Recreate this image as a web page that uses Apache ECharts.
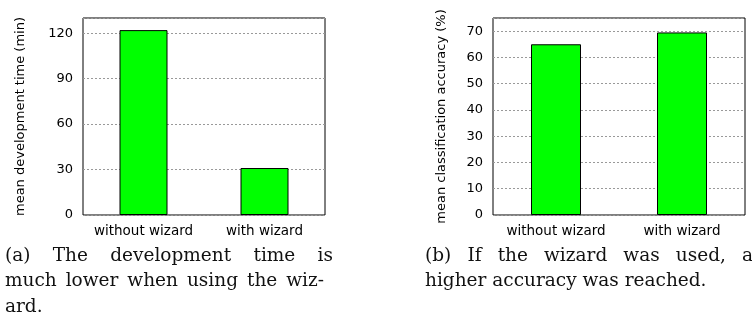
<!DOCTYPE html>
<html>
<head>
<meta charset="utf-8">
<script src="https://cdn.jsdelivr.net/npm/echarts@6/dist/echarts.min.js"></script>
<style>
html,body{margin:0;padding:0;background:#fff;}
#c{width:752px;height:320px;}
</style>
</head>
<body>
<div id="c"></div>
<script>
// ---- data ----
const categories = ['without wizard', 'with wizard'];
const devTime = [122, 31];          // mean development time (min)
const accuracy = [65, 69.5];        // mean classification accuracy (%)
const devAxis = {min: 0, max: 130, interval: 30};
const accAxis = {min: 0, max: 75, interval: 10};
const devTitle = 'mean development time (min)';
const accTitle = 'mean classification accuracy (%)';

// caption lines: [text, left, right (null = natural spacing), y]
const captionLines = [
  ['(a) The development time is', 5, 333, 256.3],
  ['much lower when using the wiz-', 5, 324, 281.3],
  ['ard.', 5, null, 307.3],
  ['(b) If the wizard was used, a', 425, 753, 256.3],
  ['higher accuracy was reached.', 425, null, 281.3]
];

const chart = echarts.init(document.getElementById('c'));
const sans = 'DejaVu Sans';
const serif = 'DejaVu Serif';
const capSize = 18.5;

const ctx = document.createElement('canvas').getContext('2d');
ctx.font = capSize + 'px "' + serif + '"';

function captionGraphics(line) {
  const [text, x0, x1, y] = line;
  const style = {fontFamily: serif, fontSize: capSize, fill: '#111', align: 'left', verticalAlign: 'middle'};
  if (x1 === null) {
    return [{type: 'text', x: x0, y: y, style: Object.assign({text: text}, style)}];
  }
  const ws = text.split(' ');
  const widths = ws.map(w => ctx.measureText(w).width);
  const total = widths.reduce((a, b) => a + b, 0);
  const gap = (x1 - x0 - total) / (ws.length - 1);
  let x = x0;
  return ws.map((w, i) => {
    const g = {type: 'text', x: x, y: y, style: Object.assign({text: w}, style)};
    x += widths[i] + gap;
    return g;
  });
}

function yAxis(idx, ax, title, gap) {
  return {
    type: 'value', gridIndex: idx, min: ax.min, max: ax.max, interval: ax.interval,
    name: title, nameLocation: 'middle', nameRotate: 90, nameGap: gap,
    nameTextStyle: {fontFamily: sans, fontSize: 13, color: '#000'},
    axisLine: {show: false}, axisTick: {show: false},
    axisLabel: {show: true, showMaxLabel: false, margin: 10, fontFamily: sans, fontSize: 13, color: '#000',
      formatter: v => (v % ax.interval === 0 ? String(v) : '')},
    splitLine: {show: true, lineStyle: {color: '#999', width: 1, type: [2, 2]}}
  };
}
function xAxis(idx) {
  return {
    type: 'category', gridIndex: idx, data: categories, boundaryGap: true,
    axisLine: {show: false}, axisTick: {show: false},
    axisLabel: {interval: 0, margin: 9, fontFamily: sans, fontSize: 13.5, color: '#000'},
    splitLine: {show: false}
  };
}

chart.setOption({
  animation: false,
  backgroundColor: '#fff',
  grid: [
    {left: 83, top: 18, width: 242, height: 197, show: true, borderColor: '#000', borderWidth: 1, backgroundColor: 'transparent'},
    {left: 493, top: 18, width: 252, height: 197, show: true, borderColor: '#000', borderWidth: 1, backgroundColor: 'transparent'}
  ],
  xAxis: [xAxis(0), xAxis(1)],
  yAxis: [yAxis(0, devAxis, devTitle, 56), yAxis(1, accAxis, accTitle, 45)],
  series: [
    {type: 'bar', xAxisIndex: 0, yAxisIndex: 0, data: devTime, barWidth: 48,
      itemStyle: {color: '#00ff00', borderColor: '#000', borderWidth: 1}},
    {type: 'bar', xAxisIndex: 1, yAxisIndex: 1, data: accuracy, barWidth: 50,
      itemStyle: {color: '#00ff00', borderColor: '#000', borderWidth: 1}}
  ],
  graphic: [].concat.apply([], captionLines.map(captionGraphics))
});
</script>
</body>
</html>
